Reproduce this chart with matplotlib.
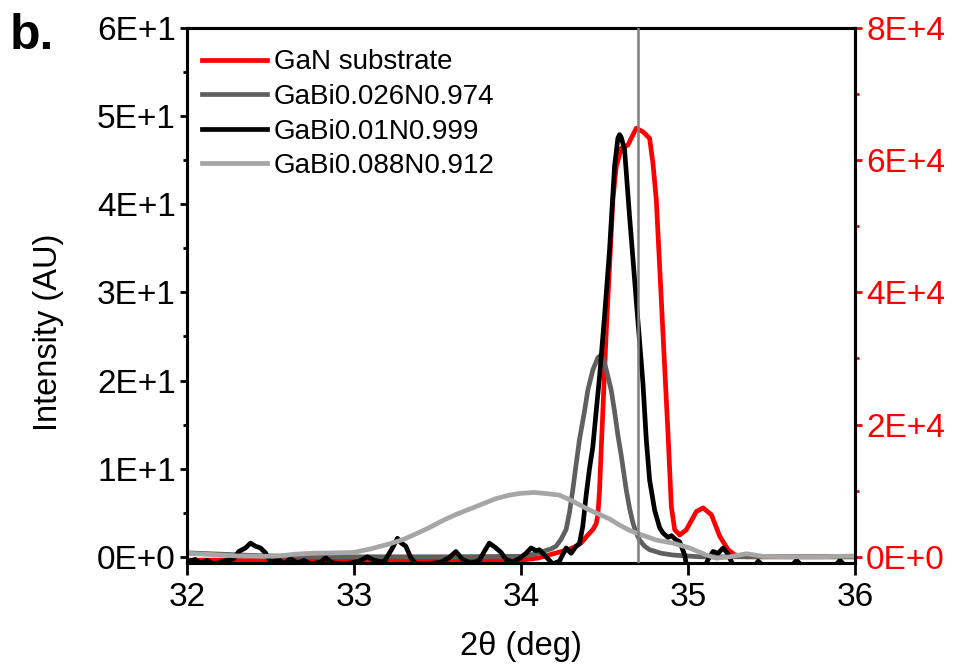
import numpy as np
import matplotlib
matplotlib.use("Agg")
import matplotlib.pyplot as plt
from matplotlib.ticker import MultipleLocator, FuncFormatter

plt.rcParams['font.family'] = ['Liberation Sans', 'DejaVu Sans']

# --- data ---
# GaN substrate (right axis)
gan_x = [32.00, 32.50, 33.00, 33.50, 34.00, 34.10, 34.17, 34.22, 34.28, 34.33,
         34.36, 34.40, 34.43, 34.45, 34.46, 34.47, 34.48, 34.51, 34.53, 34.55,
         34.57, 34.60, 34.64, 34.69, 34.73, 34.77, 34.79, 34.81, 34.83, 34.85,
         34.87, 34.88, 34.90, 34.92, 34.95, 34.99, 35.05, 35.09, 35.14, 35.19,
         35.24, 35.28, 35.35, 35.60, 36.00]
gan_y = [-500, -500, -550, -550, -500, -200, 300, 650, 1060, 1600,
         2100, 3300, 4100, 5000, 6350, 10000, 16180, 33900, 43900, 54000,
         59000, 61800, 62300, 64840, 64300, 63300, 59500, 54000, 43900, 33800,
         23700, 18700, 7600, 4100, 3300, 4100, 6850, 7400, 6350, 3100,
         1060, 300, 0, 0, 0]

# GaBi0.026N0.974
bi026_x = [32.00, 32.20, 32.40, 32.60, 33.00, 33.50, 34.00, 34.08, 34.13, 34.18,
           34.21, 34.24, 34.27, 34.29, 34.31, 34.33, 34.35, 34.38, 34.40, 34.43,
           34.46, 34.48, 34.50, 34.52, 34.54, 34.56, 34.58, 34.60, 34.63, 34.65,
           34.67, 34.69, 34.71, 34.74, 34.77, 34.84, 34.91, 35.07, 35.50, 36.00]
bi026_y = [0.45, 0.3, 0.15, 0.05, 0.0, 0.0, 0.05, 0.3, 0.6, 0.9,
           1.2, 2.0, 3.1, 5.0, 7.6, 10.5, 13.3, 16.5, 18.9, 21.2,
           22.6, 22.9, 22.0, 20.5, 18.9, 16.5, 13.8, 11.5, 7.6, 5.5,
           3.85, 2.7, 1.9, 1.2, 0.8, 0.4, 0.2, 0.0, 0.0, 0.0]

# GaBi0.01N0.999
bi01_x = [32.00, 32.05, 32.08, 32.12, 32.16, 32.22, 32.28, 32.31, 32.35, 32.38,
          32.41, 32.44, 32.47, 32.50, 32.55, 32.58, 32.62, 32.66, 32.70, 32.74,
          32.80, 32.83, 32.87, 32.95, 33.03, 33.08, 33.12, 33.18, 33.23, 33.26,
          33.28, 33.31, 33.34, 33.37, 33.45, 33.52, 33.57, 33.61, 33.65, 33.70,
          33.75, 33.78, 33.81, 33.85, 33.88, 33.91, 33.95, 33.99, 34.03, 34.06,
          34.09, 34.11, 34.15, 34.19, 34.23, 34.27, 34.30, 34.33, 34.35, 34.37,
          34.39, 34.41, 34.43, 34.45, 34.47, 34.50, 34.53, 34.56, 34.58, 34.59,
          34.60, 34.62, 34.65, 34.69, 34.73, 34.75, 34.77, 34.80, 34.83, 34.85,
          34.88, 34.90, 34.93, 34.95, 34.98, 35.00, 35.08, 35.12, 35.15, 35.18,
          35.21, 35.24, 35.27, 35.40, 35.42, 35.45, 35.62, 35.65, 35.68, 35.88,
          35.91, 35.94, 36.00]
bi01_y = [-0.6, -0.3, -0.7, -0.4, -0.8, -0.5, -0.2, 0.6, 1.0, 1.55,
          1.2, 1.0, 0.45, -0.6, -0.3, -0.8, -0.2, -0.7, -0.4, -0.8,
          -0.6, -0.1, -0.7, -0.8, -0.5, 0.0, -0.4, -0.6, 1.0, 2.1,
          1.6, 1.2, -0.1, -0.8, -0.8, -0.6, -0.1, 0.6, -0.3, -0.7,
          -0.4, 0.6, 1.55, 1.0, 0.5, -0.3, -0.6, -0.2, 0.4, 1.0,
          0.7, 0.8, 0.0, -0.8, -0.5, 1.0, 0.4, 1.2, 1.5, 3.5,
          7.0, 10.0, 12.5, 16.5, 20.4, 27.3, 34.8, 44.3, 47.5, 47.9,
          47.6, 46.2, 38.6, 29.1, 19.7, 13.3, 8.7, 5.3, 3.3, 2.7,
          2.2, 2.4, 1.9, 1.7, 0.2, -2.0, -2.0, -0.3, 0.6, 0.4,
          1.0, 0.3, -1.0, -1.0, -0.5, -1.0, -1.0, -0.4, -1.0, -1.0,
          -0.4, -1.0, -1.0]

# GaBi0.088N0.912
bi088_x = [32.00, 32.15, 32.30, 32.45, 32.55, 32.65, 32.75, 32.90, 33.00, 33.10,
           33.21, 33.30, 33.37, 33.45, 33.53, 33.61, 33.69, 33.77, 33.85, 33.93,
           34.00, 34.08, 34.16, 34.23, 34.30, 34.35, 34.40, 34.47, 34.53, 34.59,
           34.65, 34.69, 34.75, 34.81, 34.91, 35.01, 35.06, 35.11, 35.17, 35.25,
           35.35, 35.45, 35.60, 35.80, 36.00]
bi088_y = [0.4, 0.25, 0.1, 0.05, 0.1, 0.3, 0.4, 0.45, 0.5, 0.9,
           1.45, 2.0, 2.6, 3.3, 4.1, 4.8, 5.4, 6.0, 6.6, 7.0,
           7.2, 7.3, 7.15, 7.0, 6.4, 5.9, 5.4, 4.8, 4.3, 3.6,
           3.0, 2.7, 2.3, 1.9, 1.55, 1.0, 0.6, 0.2, -0.15, 0.0,
           0.35, 0.05, 0.0, 0.0, 0.1]

gan_peak = 34.70   # reference line

labels = ["GaN substrate", "GaBi0.026N0.974", "GaBi0.01N0.999", "GaBi0.088N0.912"]
colors = ["#ff0000", "#606060", "#000000", "#a6a6a6"]


def sci_fmt(v, pos):
    if abs(v) < 1e-9:
        return "0E+0"
    e = int(np.floor(np.log10(abs(v)) + 1e-9))
    return f"{v / 10**e:.0f}E+{e}"


fig = plt.figure(figsize=(9.59, 6.66), dpi=100)
ax = fig.add_axes([0.195, 0.1547, 0.6966, 0.8033])
ax2 = ax.twinx()
ax.set_zorder(ax2.get_zorder() + 1)
ax.patch.set_visible(False)

lw = 3.4
l0, = ax2.plot(gan_x, gan_y, color=colors[0], lw=lw)
l1, = ax.plot(bi026_x, bi026_y, color=colors[1], lw=lw)
l2, = ax.plot(bi01_x, bi01_y, color=colors[2], lw=lw)
l3, = ax.plot(bi088_x, bi088_y, color=colors[3], lw=lw)
ax.axvline(gan_peak, color="#808080", lw=1.8, zorder=5)

ax.set_xlim(32, 36)
ax.set_ylim(-0.7, 60)
ax2.set_ylim(-0.7 * 80000 / 60, 80000)

ax.xaxis.set_major_locator(MultipleLocator(1))
ax.yaxis.set_major_locator(MultipleLocator(10))
ax.yaxis.set_minor_locator(MultipleLocator(5))
ax2.yaxis.set_major_locator(MultipleLocator(20000))
ax2.yaxis.set_minor_locator(MultipleLocator(10000))
ax.yaxis.set_major_formatter(FuncFormatter(sci_fmt))
ax2.yaxis.set_major_formatter(FuncFormatter(sci_fmt))

for a in (ax, ax2):
    for s in a.spines.values():
        s.set_linewidth(2.2)
        s.set_color("black")

ax.tick_params(axis="x", which="major", direction="out", length=8.5, width=2,
               labelsize=24, pad=5, top=False)
ax.tick_params(axis="y", which="major", direction="out", length=5, width=2,
               labelsize=24, pad=3, right=False)
ax.tick_params(axis="y", which="minor", direction="out", length=3, width=2, right=False)
ax2.tick_params(axis="y", which="major", direction="out", length=5, width=2,
                labelsize=24, pad=3, colors="red")
ax2.tick_params(axis="y", which="minor", direction="out", length=3, width=2, colors="red")

ax.set_xlabel("2θ (deg)", fontsize=23.5)
ax.xaxis.set_label_coords(0.5, -0.128)
ax.set_ylabel("Intensity (AU)", fontsize=23.5)
ax.yaxis.set_label_coords(-0.184, 0.432)

ax.legend([l0, l1, l2, l3], labels, loc="upper left", bbox_to_anchor=(0.022, 0.96),
          frameon=False, fontsize=20, handlelength=2.34, handletextpad=0.25,
          labelspacing=0.31, borderpad=0, borderaxespad=0)

fig.text(0.010, 0.9805, "b.", fontsize=36, fontweight="bold", va="top", ha="left")

fig.savefig("out.png", dpi=100)
